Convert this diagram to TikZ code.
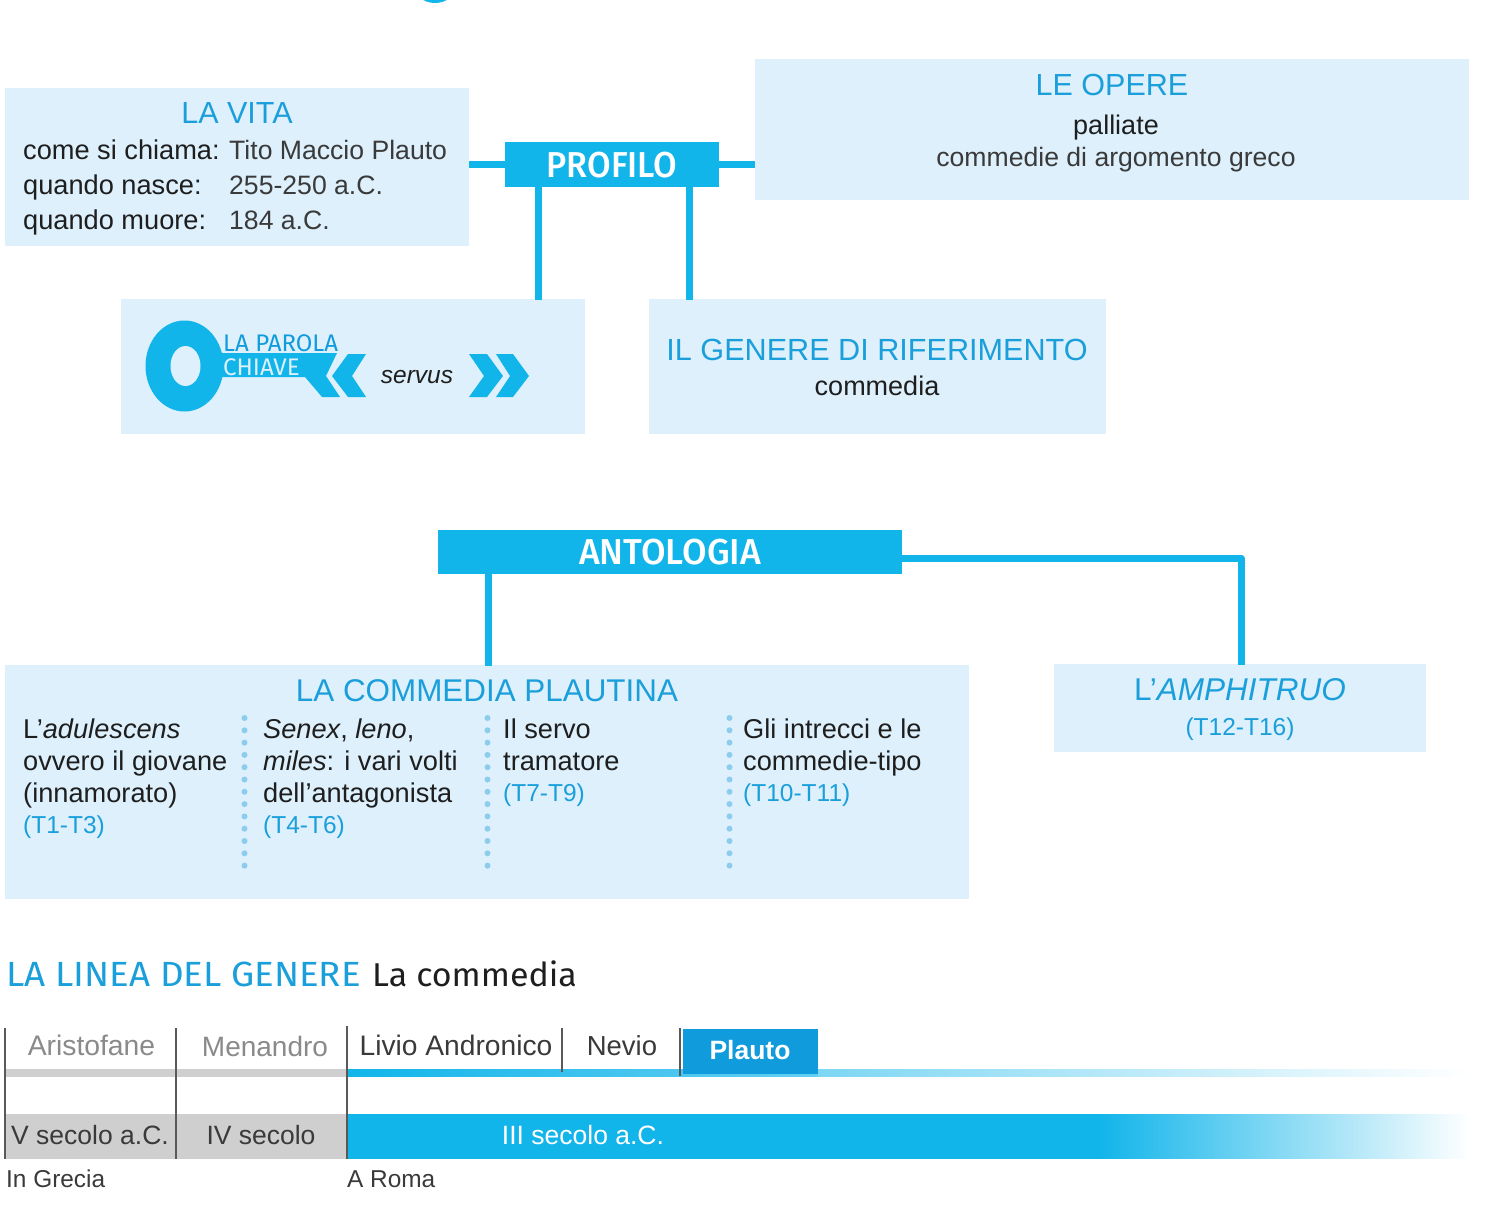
\documentclass[tikz,border=0pt]{standalone}
\usepackage{fontspec}
\setmainfont{Liberation Sans}
\newfontfamily\humfont{Fira Sans}
\newfontfamily\humfontm{Fira Sans Medium}
\usetikzlibrary{calc}
\definecolor{pale}{HTML}{DDF0FC}
\definecolor{cyanb}{HTML}{12B5EA}
\definecolor{headb}{HTML}{1B9FDB}
\definecolor{darkb}{HTML}{0F9BDC}
\definecolor{ink}{HTML}{1E1E1E}
\definecolor{softink}{HTML}{3A3A3A}
\definecolor{greyt}{HTML}{8A8A8A}
\definecolor{greyb}{HTML}{CFCFCF}
\definecolor{dotb}{HTML}{8CCDEE}
\tikzset{
  panel/.style={fill=pale,draw=none},
  conn/.style={draw=cyanb,line width=7pt},
  headbox/.style={fill=cyanb,inner sep=0,outer sep=0},
  heading/.style={font=\fontsize{30.5}{36}\selectfont,text=headb,inner sep=0,anchor=base},
  body/.style={font=\fontsize{27.2}{32}\selectfont,text=ink,inner sep=0,anchor=base west},
  soft/.style={font=\fontsize{26.6}{32}\selectfont,text=softink,inner sep=0,anchor=base west},
  bodymid/.style={font=\fontsize{27}{32}\selectfont,text=ink,inner sep=0,anchor=base},
  ref/.style={font=\fontsize{24.5}{32}\selectfont,text=headb,inner sep=0,anchor=base west},
  bandlabel/.style={font=\humfontm\fontsize{36}{40}\selectfont,text=white,inner sep=0,anchor=base,xscale=.95,transform shape},
  tick/.style={draw=black!65,line width=1.2pt},
  dots/.style={draw=dotb,line width=6pt,line cap=round,dash pattern=on 0pt off 12.3pt},
  tl/.style={font=\fontsize{26.5}{32}\selectfont,inner sep=0,anchor=base},
}
\begin{document}
\begin{tikzpicture}[x=1pt,y=-1pt]
\useasboundingbox (0,0) rectangle (1496,1212);
\fill[white] (0,0) rectangle (1496,1212);
% top cut-off ring
\begin{scope}
\clip (0,0) rectangle (1496,4);
\fill[cyanb] (435,-16) ellipse (22 and 19);
\end{scope}
% panels
\path[panel] (5,88) rectangle (469,246);
\path[panel] (755,59) rectangle (1469,200);
\path[panel] (121,299) rectangle (585,434);
\path[panel] (649,299) rectangle (1106,434);
\path[panel] (5,665) rectangle (969,899);
\path[panel] (1054,664) rectangle (1426,752);
\coordinate (vitaE) at (469,164);
\coordinate (opereW) at (755,164);
\coordinate (chiaveN) at (538,300);
\coordinate (genereN) at (689,300);
\coordinate (commN) at (488,666);
\coordinate (amphN) at (1241,665);
% header boxes
\node[headbox,minimum width=214pt,minimum height=45pt] (profilo) at (612,164.5) {};
\node[headbox,minimum width=464pt,minimum height=44pt] (antologia) at (670,552) {};
% connectors
\draw[conn] (profilo.west) -- (profilo.west -| vitaE);
\draw[conn] (profilo.east) -- (profilo.east -| opereW);
\draw[conn] (profilo.south -| chiaveN) -- (chiaveN);
\draw[conn] (profilo.south -| genereN) -- (genereN);
\draw[conn] (antologia.south -| commN) -- (commN);
\coordinate (antE) at (902,558);
\draw[conn,line join=round] (antE) -| (amphN);
\node[bandlabel] (profilotext) at (612,177) {PROFILO};
\node[bandlabel,xscale=1.04] (antotext) at (670,564) {ANTOLOGIA};
% LA VITA
\node[heading] (vita) at (237,124) {LA VITA};
\node[body] (v1) at (23,160) {come si chiama:};
\node[soft] (v1b) at (229,160) {Tito Maccio Plauto};
\node[body] (v2) at (23,194) {quando nasce:};
\node[soft] (v2b) at (229,194) {255-250 a.C.};
\node[body] (v3) at (23,229) {quando muore:};
\node[soft] (v3b) at (229,229) {184 a.C.};
% LE OPERE
\node[heading] (opere) at (1112,96) {LE OPERE};
\node[bodymid] (op1) at (1116,135) {palliate};
\node[soft,anchor=base] (op2) at (1116,166) {commedie di argomento greco};
% key
\fill[cyanb] (216,353) -- (337,353) -- (326,376) -- (340,397) -- (322,397) -- (305,377) -- (216,377) -- cycle;
\fill[cyanb] (366,354) -- (352,376) -- (366,397) -- (348,397) -- (332,376) -- (348,354) -- cycle;
\fill[cyanb] (469,354) -- (487,354) -- (503,376) -- (487,397) -- (469,397) -- (484,376) -- cycle;
\fill[cyanb] (496,354) -- (513,354) -- (529,376) -- (513,397) -- (496,397) -- (510,376) -- cycle;
\fill[cyanb] (184.5,366) ellipse (39 and 45.5);
\fill[pale] (185.5,366) ellipse (15 and 20);
\node[font=\humfont\fontsize{24}{28}\selectfont,text=darkb,inner sep=0,anchor=base west,xscale=1.0,transform shape] (kw1) at (223,351) {LA PAROLA};
\node[font=\humfont\fontsize{24}{28}\selectfont,text=pale,inner sep=0,anchor=base west,xscale=1.0,transform shape] (kw2) at (223,375) {CHIAVE};
\node[font=\itshape\fontsize{24.5}{28}\selectfont,text=ink,inner sep=0,anchor=base] (servus) at (417,383) {servus};
% genere
\node[heading,font=\fontsize{30.6}{36}\selectfont] (genere) at (877,360) {IL GENERE DI RIFERIMENTO};
\node[bodymid] (gen2) at (877,395) {commedia};
% antologia content
\node[heading,font=\fontsize{31.4}{36}\selectfont] (comm) at (487,701) {LA COMMEDIA PLAUTINA};
\node[body] (a1) at (23,738) {L’\textit{adulescens}};
\node[body] (a2) at (23,770) {ovvero il giovane};
\node[body] (a3) at (23,802) {(innamorato)};
\node[ref] (a4) at (23,833) {(T1-T3)};
\node[body] (b1) at (263,738) {\textit{Senex}, \textit{leno},};
\node[body] (b2) at (263,770) {\textit{miles}: i vari volti};
\node[body] (b3) at (263,802) {dell’antagonista};
\node[ref] (b4) at (263,833) {(T4-T6)};
\node[body] (c1) at (503,738) {Il servo};
\node[body] (c2) at (503,770) {tramatore};
\node[ref] (c3) at (503,801) {(T7-T9)};
\node[body] (d1) at (743,738) {Gli intrecci e le};
\node[body] (d2) at (743,770) {commedie-tipo};
\node[ref] (d3) at (743,801) {(T10-T11)};
\draw[dots] (244.5,718) -- (244.5,870);
\draw[dots] (487.5,718) -- (487.5,870);
\draw[dots] (729.5,718) -- (729.5,870);
\node[heading,font=\fontsize{31.5}{36}\selectfont] (amph) at (1240,700) {L’\textit{AMPHITRUO}};
\node[ref,anchor=base] (amph2) at (1240,735) {(T12-T16)};
% line title
\node[font=\humfont\fontsize{35}{40}\selectfont,text=headb,inner sep=0,anchor=base west,xscale=1.05,transform shape] (lt1) at (6,986) {LA LINEA DEL GENERE};
\node[font=\humfont\fontsize{33}{40}\selectfont,text=ink,inner sep=0,anchor=base west,xscale=1.03,transform shape] (lt2) at (372,986) {La commedia};
% timeline
\fill[greyb] (5,1069) rectangle (347,1077);
\fill[left color=cyanb,right color=cyanb!65] (347,1069) rectangle (818,1076.6);
\fill[left color=cyanb!55,right color=white] (818,1069) rectangle (1470,1076.6);
\fill[greyb] (5,1114) rectangle (347,1159);
\fill[cyanb] (347,1114) rectangle (1100,1159);
\fill[left color=cyanb,right color=white] (1100,1114) rectangle (1470,1158.6);
\fill[darkb] (683,1029) rectangle (818,1074);
\draw[tick] (5,1028) -- (5,1159);
\draw[tick] (176,1028) -- (176,1159);
\draw[tick] (347,1026) -- (347,1159);
\draw[tick] (562,1028) -- (562,1072);
\draw[tick] (680,1028) -- (680,1076);
\node[tl,text=greyt,font=\fontsize{28.3}{32}\selectfont] (t1) at (91.5,1055) {Aristofane};
\node[tl,text=greyt,font=\fontsize{28}{32}\selectfont] (t2) at (265,1056) {Menandro};
\node[tl,text=softink,font=\fontsize{28.2}{32}\selectfont] (t3) at (456,1055) {Livio Andronico};
\node[tl,text=softink,font=\fontsize{27.5}{32}\selectfont] (t4) at (622,1055) {Nevio};
\node[tl,text=white,font=\bfseries\fontsize{26.5}{32}\selectfont] (t5) at (750,1059) {Plauto};
\node[tl,text=softink] (s1) at (90,1144) {V secolo a.C.};
\node[tl,text=softink] (s2) at (261,1144) {IV secolo};
\node[tl,text=white] (s3) at (583,1144) {III secolo a.C.};
\node[tl,text=softink,anchor=base west,font=\fontsize{24.4}{32}\selectfont] (g) at (6,1187) {In Grecia};
\node[tl,text=softink,anchor=base west,font=\fontsize{24.4}{32}\selectfont] (r) at (347,1187) {A Roma};
\end{tikzpicture}
\end{document}
